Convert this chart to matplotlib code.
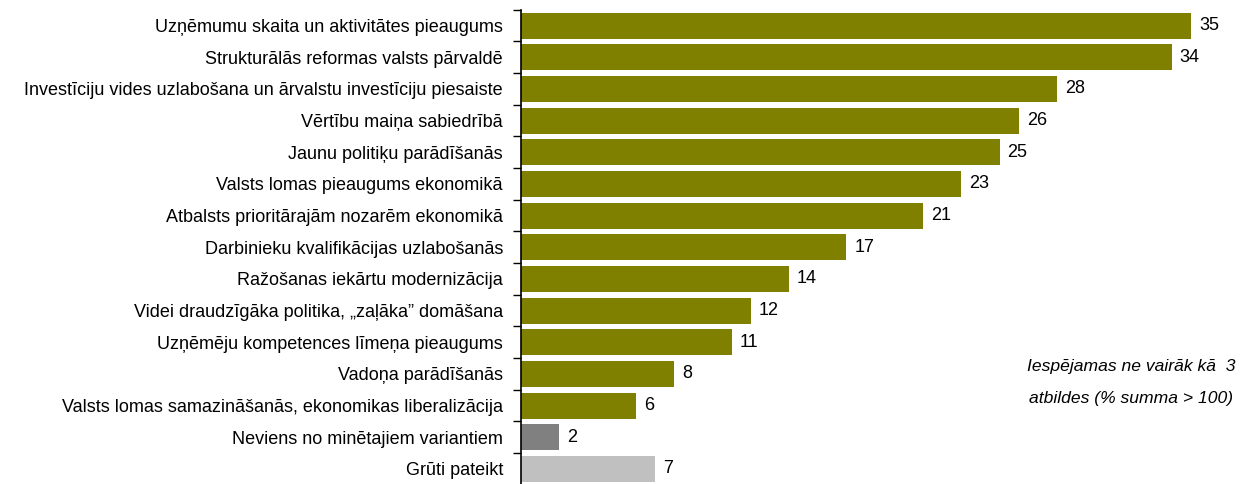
import numpy as np
import matplotlib.pyplot as plt
from matplotlib.ticker import FixedLocator

plt.rcParams['font.family'] = ['Liberation Sans', 'DejaVu Sans']

categories = [
    "Uzņēmumu skaita un aktivitātes pieaugums",
    "Strukturālās reformas valsts pārvaldē",
    "Investīciju vides uzlabošana un ārvalstu investīciju piesaiste",
    "Vērtību maiņa sabiedrībā",
    "Jaunu politiķu parādīšanās",
    "Valsts lomas pieaugums ekonomikā",
    "Atbalsts prioritārajām nozarēm ekonomikā",
    "Darbinieku kvalifikācijas uzlabošanās",
    "Ražošanas iekārtu modernizācija",
    "Videi draudzīgāka politika, „zaļāka” domāšana",
    "Uzņēmēju kompetences līmeņa pieaugums",
    "Vadoņa parādīšanās",
    "Valsts lomas samazināšanās, ekonomikas liberalizācija",
    "Neviens no minētajiem variantiem",
    "Grūti pateikt",
]
values = [35, 34, 28, 26, 25, 23, 21, 17, 14, 12, 11, 8, 6, 2, 7]
colors = ['#808000'] * 13 + ['#808080', '#C0C0C0']

note_lines = ["Iespējamas ne vairāk kā  3", "atbildes (% summa > 100)"]

W, H = 1242, 484
fig = plt.figure(figsize=(W / 100, H / 100), dpi=100)
# axes box in pixels: left spine at x=521, rows ~31.7 px apart
ax = fig.add_axes([521 / W, -0.8 / H, 1 - 521 / W, 475 / H])

y = np.arange(len(categories))
ax.barh(y, values, height=0.82, color=colors, zorder=2)
ax.set_ylim(len(categories) - 0.5, -0.5)
ax.set_xlim(0, 721 / 19.14)

for yi, v in zip(y, values):
    ax.text(v + 0.42, yi, str(v), va='center', ha='left', fontsize=13)

ax.set_yticks(y)
ax.set_yticklabels(categories, fontsize=13)
ax.yaxis.set_minor_locator(FixedLocator(np.arange(len(categories) + 1) - 0.5))
ax.tick_params(axis='y', which='major', length=0, pad=13)
ax.tick_params(axis='y', which='minor', length=6, width=1, direction='out')
ax.set_xticks([])
for s in ['top', 'right', 'bottom']:
    ax.spines[s].set_visible(False)
ax.spines['left'].set_linewidth(1.2)

for line, ypx in zip(note_lines, [367, 399]):
    fig.text(1131 / W, 1 - ypx / H, line, ha='center', va='center',
             style='italic', fontsize=12.6)

fig.savefig('out.png', dpi=100)
